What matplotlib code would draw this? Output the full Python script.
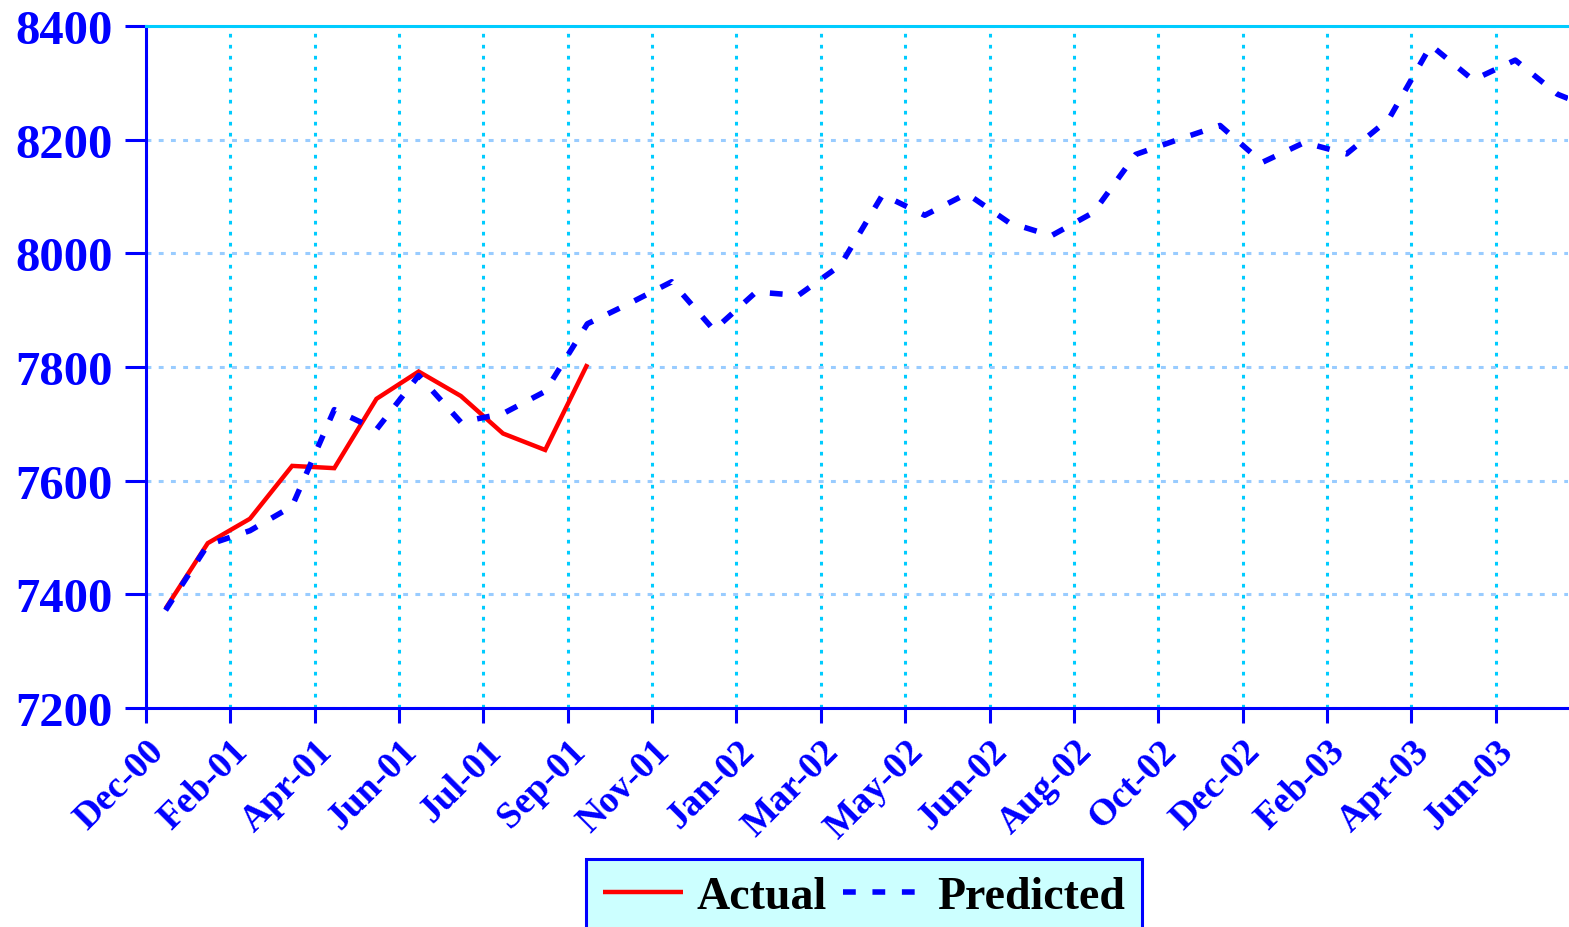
import matplotlib
matplotlib.use("Agg")
import matplotlib.pyplot as plt
import matplotlib.transforms as mtransforms
import pandas as pd

# ---------------- data ----------------
tick_labels = ['Dec-00', 'Feb-01', 'Apr-01', 'Jun-01', 'Jul-01', 'Sep-01', 'Nov-01',
               'Jan-02', 'Mar-02', 'May-02', 'Jun-02', 'Aug-02', 'Oct-02', 'Dec-02',
               'Feb-03', 'Apr-03', 'Jun-03']
axis_start = '2000-12-17'
axis_end = '2003-07-19'
first_period = '2000-12-30'

actual = [7375, 7490, 7533, 7626, 7622, 7744, 7792, 7749, 7683, 7654, 7805]
predicted = [7372, 7487, 7512, 7555, 7725, 7690, 7785, 7703, 7718, 7757,
             7876, 7912, 7950, 7865, 7932, 7926, 7979, 8103, 8067, 8105,
             8054, 8031, 8072, 8174, 8200, 8225, 8160, 8195, 8175, 8236,
             8366, 8305, 8340, 8280, 8250]

y_ticks = [7200, 7400, 7600, 7800, 8000, 8200, 8400]

# periods every 4 weeks; axis ticks every 8 weeks
dates_pred = pd.date_range(first_period, periods=len(predicted), freq='28D')
dates_act = dates_pred[:len(actual)]
tick_dates = pd.date_range(axis_start, periods=len(tick_labels), freq='56D')

# ---------------- figure ----------------
W, H = 1569, 928
fig = plt.figure(figsize=(W / 100, H / 100), dpi=100)
ax = fig.add_axes([146 / W, 1 - 709 / H, (1568 - 146) / W, (709 - 27) / H])

serif = ['Liberation Serif', 'DejaVu Serif']
blue = '#0000FF'

ax.plot(dates_act, actual, color='#FF0000', lw=3.2, solid_capstyle='butt',
        solid_joinstyle='miter', label='Actual', zorder=3)
ax.plot(dates_pred, predicted, color=blue, lw=4.0, linestyle=(0, (2.3, 3.0)),
        dash_capstyle='butt', label='Predicted', zorder=4)

ax.set_xlim(pd.Timestamp(axis_start), pd.Timestamp(axis_end))
ax.set_ylim(7200, 8400)
ax.set_yticks(y_ticks)
ax.set_yticklabels([str(v) for v in y_ticks], fontfamily=serif,
                   fontweight='bold', fontsize=35, color=blue)
ax.set_xticks(tick_dates)
ax.set_xticklabels(tick_labels, fontfamily=serif, fontweight='bold',
                   fontsize=27, color=blue, rotation=45, ha='right', va='top',
                   rotation_mode='anchor')

offset = mtransforms.ScaledTranslation(8 / 100, 0, fig.dpi_scale_trans)
for lab in ax.get_xticklabels():
    lab.set_transform(lab.get_transform() + offset)

ax.tick_params(axis='y', direction='out', length=15, width=2.2, color=blue, pad=9)
ax.tick_params(axis='x', direction='out', length=11, width=2.2, color=blue, pad=7)

for side in ['left', 'bottom']:
    ax.spines[side].set_color(blue)
    ax.spines[side].set_linewidth(2.2)
ax.spines['top'].set_color('#00CCFF')
ax.spines['top'].set_linewidth(2.2)
ax.spines['right'].set_visible(False)

ax.xaxis.grid(True, color='#00CCFF', lw=2.2, linestyle=(0, (1.2, 2.4)))
ax.yaxis.grid(True, color='#99CCFF', lw=2.2, linestyle=(0, (1.6, 2.4)))
ax.set_axisbelow(True)

leg = ax.legend(loc='upper center', bbox_to_anchor=(864 / W, 1 - 860 / H),
                bbox_transform=fig.transFigure, ncol=2, frameon=True,
                fancybox=False, framealpha=1, handlelength=1.75,
                handletextpad=0.3, columnspacing=0.35, borderpad=0.38,
                borderaxespad=0,
                prop={'family': serif, 'weight': 'bold', 'size': 33})
leg.get_frame().set_facecolor('#CCFFFF')
leg.get_frame().set_edgecolor(blue)
leg.get_frame().set_linewidth(2.2)

fig.savefig('out.png', dpi=100)
